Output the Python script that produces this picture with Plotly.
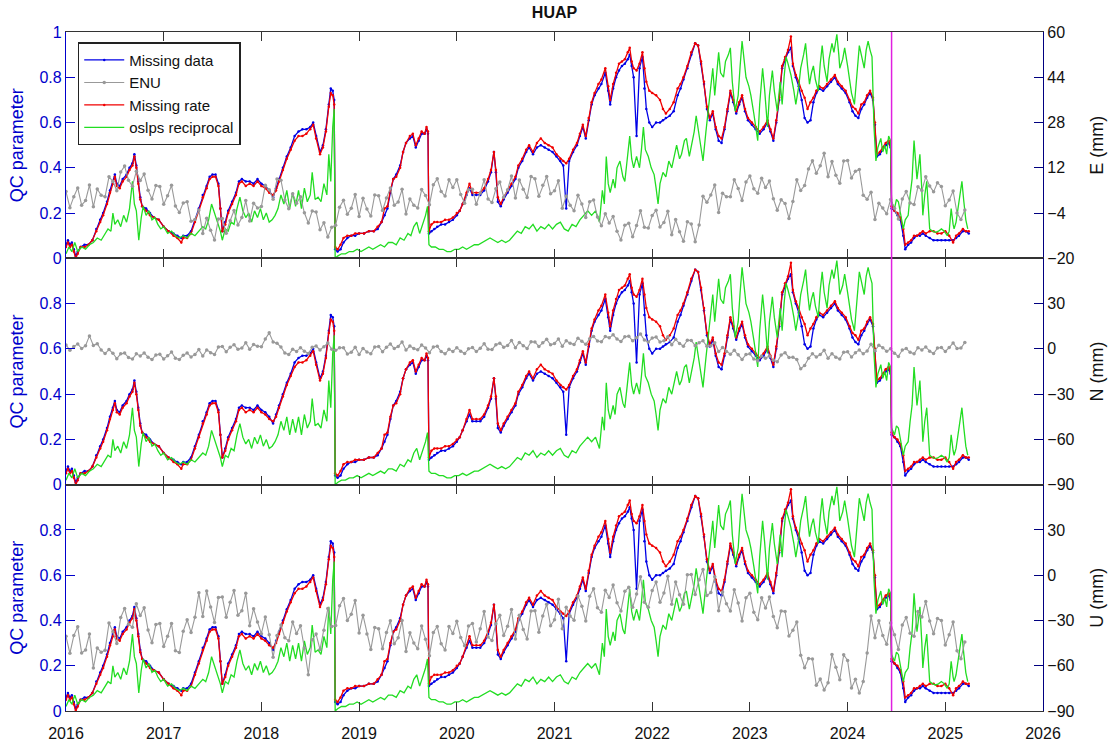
import plotly.graph_objects as go
from plotly.subplots import make_subplots

# ---------------- QC parameter series (decimal years) ----------------
t_qc = [2016.00, 2016.02, 2016.04, 2016.06, 2016.08, 2016.10, 2016.12, 2016.15, 2016.19, 2016.23,
        2016.27, 2016.31, 2016.35, 2016.38, 2016.42, 2016.45, 2016.48, 2016.50, 2016.52, 2016.55,
        2016.58, 2016.62, 2016.65, 2016.68, 2016.70, 2016.72, 2016.74, 2016.76, 2016.78, 2016.82,
        2016.86, 2016.90, 2016.95, 2017.00, 2017.05, 2017.10, 2017.14, 2017.18, 2017.20, 2017.24,
        2017.28, 2017.32, 2017.36, 2017.40, 2017.44, 2017.47, 2017.50, 2017.53, 2017.56, 2017.58,
        2017.60, 2017.63, 2017.66, 2017.70, 2017.74, 2017.77, 2017.80, 2017.84, 2017.88, 2017.92,
        2017.96, 2018.00, 2018.04, 2018.08, 2018.12, 2018.15, 2018.18, 2018.22, 2018.26, 2018.30,
        2018.34, 2018.38, 2018.42, 2018.46, 2018.50, 2018.53, 2018.56, 2018.60, 2018.63, 2018.66,
        2018.69, 2018.71, 2018.73, 2018.745, 2018.755, 2018.78, 2018.81, 2018.84, 2018.88, 2018.92,
        2018.96, 2019.00, 2019.05, 2019.10, 2019.15, 2019.19, 2019.23, 2019.26, 2019.29, 2019.32,
        2019.35, 2019.38, 2019.42, 2019.45, 2019.48, 2019.52, 2019.55, 2019.58, 2019.61, 2019.64,
        2019.67, 2019.69, 2019.705, 2019.715, 2019.74, 2019.77, 2019.80, 2019.84, 2019.88, 2019.92,
        2019.96, 2020.00, 2020.03, 2020.06, 2020.10, 2020.13, 2020.16, 2020.20, 2020.24, 2020.28,
        2020.32, 2020.35, 2020.38, 2020.40, 2020.42, 2020.45, 2020.48, 2020.52, 2020.56, 2020.60,
        2020.63, 2020.67, 2020.71, 2020.74, 2020.78, 2020.82, 2020.86, 2020.90, 2020.94, 2020.98,
        2021.02, 2021.06, 2021.09, 2021.12, 2021.15, 2021.19, 2021.23, 2021.26, 2021.29, 2021.32,
        2021.35, 2021.38, 2021.41, 2021.45, 2021.48, 2021.52, 2021.55, 2021.57, 2021.60, 2021.63,
        2021.66, 2021.69, 2021.72, 2021.75, 2021.77, 2021.79, 2021.81, 2021.84, 2021.87, 2021.90,
        2021.92, 2021.94, 2021.97, 2022.00, 2022.04, 2022.08, 2022.11, 2022.14, 2022.18, 2022.22,
        2022.26, 2022.29, 2022.32, 2022.36, 2022.40, 2022.44, 2022.47, 2022.50, 2022.53, 2022.56,
        2022.59, 2022.62, 2022.65, 2022.68, 2022.71, 2022.74, 2022.77, 2022.80, 2022.83, 2022.86,
        2022.89, 2022.92, 2022.95, 2022.98, 2023.02, 2023.06, 2023.10, 2023.14, 2023.18, 2023.21,
        2023.24, 2023.27, 2023.30, 2023.33, 2023.36, 2023.39, 2023.42, 2023.44, 2023.47, 2023.50,
        2023.53, 2023.56, 2023.59, 2023.62, 2023.65, 2023.68, 2023.71, 2023.75, 2023.79, 2023.83,
        2023.87, 2023.90, 2023.94, 2023.98, 2024.02, 2024.05, 2024.08, 2024.11, 2024.14, 2024.17,
        2024.20, 2024.23, 2024.26, 2024.28, 2024.30, 2024.33, 2024.36, 2024.39, 2024.42, 2024.44,
        2024.45, 2024.48, 2024.51, 2024.54, 2024.57, 2024.59, 2024.62, 2024.65, 2024.68, 2024.71,
        2024.74, 2024.77, 2024.80, 2024.84, 2024.88, 2024.92, 2024.96, 2025.00, 2025.04, 2025.08,
        2025.11, 2025.14, 2025.18, 2025.21, 2025.24]

missing_rate = [0.05, 0.07, 0.05, 0.06, 0.03, 0.00, 0.02, 0.05, 0.05, 0.06,
                0.08, 0.12, 0.16, 0.19, 0.24, 0.29, 0.33, 0.36, 0.32, 0.31,
                0.34, 0.36, 0.39, 0.41, 0.45, 0.40, 0.33, 0.26, 0.23, 0.21,
                0.19, 0.18, 0.17, 0.14, 0.12, 0.10, 0.09, 0.07, 0.09, 0.09,
                0.11, 0.16, 0.21, 0.27, 0.31, 0.35, 0.36, 0.36, 0.32, 0.22,
                0.12, 0.15, 0.20, 0.24, 0.28, 0.33, 0.34, 0.32, 0.33, 0.32,
                0.34, 0.32, 0.31, 0.29, 0.28, 0.30, 0.34, 0.39, 0.44, 0.48,
                0.52, 0.54, 0.54, 0.55, 0.57, 0.59, 0.53, 0.46, 0.49, 0.56,
                0.67, 0.73, 0.72, 0.68, 0.05, 0.04, 0.06, 0.09, 0.10, 0.10,
                0.11, 0.11, 0.11, 0.12, 0.12, 0.14, 0.16, 0.22, 0.23, 0.30,
                0.35, 0.36, 0.40, 0.47, 0.51, 0.54, 0.55, 0.50, 0.53, 0.56,
                0.55, 0.58, 0.56, 0.12, 0.15, 0.16, 0.16, 0.16, 0.17, 0.17,
                0.18, 0.20, 0.21, 0.24, 0.29, 0.33, 0.29, 0.29, 0.29, 0.31,
                0.35, 0.39, 0.47, 0.39, 0.27, 0.24, 0.27, 0.30, 0.33, 0.36,
                0.41, 0.44, 0.48, 0.50, 0.47, 0.51, 0.53, 0.51, 0.50, 0.49,
                0.46, 0.44, 0.43, 0.42, 0.44, 0.48, 0.51, 0.55, 0.59, 0.54,
                0.62, 0.69, 0.73, 0.77, 0.79, 0.84, 0.76, 0.70, 0.77, 0.82,
                0.86, 0.87, 0.88, 0.91, 0.93, 0.87, 0.84, 0.83, 0.86, 0.91,
                0.84, 0.78, 0.74, 0.73, 0.72, 0.70, 0.66, 0.64, 0.66, 0.69,
                0.75, 0.77, 0.80, 0.85, 0.91, 0.95, 0.94, 0.87, 0.78, 0.67,
                0.62, 0.65, 0.58, 0.54, 0.53, 0.58, 0.66, 0.74, 0.70, 0.65,
                0.69, 0.72, 0.66, 0.62, 0.60, 0.58, 0.56, 0.58, 0.61, 0.57,
                0.53, 0.61, 0.71, 0.85, 0.89, 0.92, 0.98, 0.86, 0.81, 0.78,
                0.74, 0.71, 0.66, 0.69, 0.71, 0.74, 0.76, 0.75, 0.77, 0.79,
                0.81, 0.78, 0.76, 0.74, 0.70, 0.67, 0.66, 0.64, 0.68, 0.69,
                0.72, 0.74, 0.71, 0.60, 0.46, 0.47, 0.49, 0.51, 0.52, 0.50,
                0.23, 0.21, 0.20, 0.18, 0.13, 0.06, 0.07, 0.08, 0.10, 0.10,
                0.11, 0.12, 0.11, 0.12, 0.12, 0.11, 0.11, 0.12, 0.10, 0.07,
                0.10, 0.11, 0.13, 0.12, 0.12]

missing_data = [0.06, 0.08, 0.06, 0.07, 0.04, 0.01, 0.03, 0.05, 0.06, 0.06,
                0.08, 0.13, 0.17, 0.20, 0.25, 0.30, 0.34, 0.37, 0.33, 0.32,
                0.35, 0.37, 0.40, 0.42, 0.46, 0.41, 0.34, 0.27, 0.23, 0.22,
                0.20, 0.18, 0.17, 0.14, 0.12, 0.11, 0.10, 0.09, 0.10, 0.10,
                0.12, 0.17, 0.22, 0.28, 0.32, 0.36, 0.37, 0.37, 0.33, 0.22,
                0.12, 0.16, 0.21, 0.25, 0.29, 0.34, 0.35, 0.34, 0.34, 0.33,
                0.35, 0.33, 0.32, 0.30, 0.27, 0.31, 0.35, 0.40, 0.45, 0.49,
                0.54, 0.56, 0.57, 0.57, 0.58, 0.60, 0.54, 0.47, 0.50, 0.57,
                0.68, 0.75, 0.74, 0.70, 0.04, 0.03, 0.04, 0.07, 0.09, 0.10,
                0.10, 0.11, 0.11, 0.12, 0.12, 0.13, 0.16, 0.19, 0.22, 0.29,
                0.35, 0.37, 0.41, 0.47, 0.51, 0.53, 0.54, 0.49, 0.52, 0.55,
                0.55, 0.57, 0.55, 0.11, 0.12, 0.13, 0.14, 0.15, 0.15, 0.16,
                0.17, 0.19, 0.21, 0.24, 0.28, 0.31, 0.28, 0.28, 0.28, 0.30,
                0.34, 0.38, 0.47, 0.38, 0.25, 0.23, 0.26, 0.29, 0.32, 0.35,
                0.40, 0.43, 0.47, 0.49, 0.46, 0.49, 0.50, 0.49, 0.48, 0.47,
                0.45, 0.43, 0.41, 0.22, 0.43, 0.47, 0.50, 0.54, 0.58, 0.53,
                0.61, 0.68, 0.72, 0.75, 0.77, 0.82, 0.74, 0.68, 0.75, 0.80,
                0.83, 0.85, 0.86, 0.88, 0.90, 0.85, 0.80, 0.54, 0.84, 0.89,
                0.75, 0.66, 0.60, 0.58, 0.60, 0.60, 0.61, 0.62, 0.63, 0.65,
                0.72, 0.75, 0.79, 0.84, 0.90, 0.95, 0.94, 0.86, 0.77, 0.66,
                0.61, 0.64, 0.57, 0.52, 0.51, 0.57, 0.65, 0.73, 0.69, 0.64,
                0.68, 0.71, 0.65, 0.61, 0.59, 0.57, 0.55, 0.57, 0.60, 0.56,
                0.52, 0.60, 0.70, 0.84, 0.88, 0.91, 0.93, 0.85, 0.80, 0.76,
                0.70, 0.62, 0.60, 0.61, 0.69, 0.73, 0.75, 0.74, 0.76, 0.78,
                0.80, 0.77, 0.75, 0.73, 0.69, 0.65, 0.63, 0.62, 0.66, 0.68,
                0.71, 0.73, 0.70, 0.59, 0.45, 0.46, 0.48, 0.50, 0.51, 0.49,
                0.22, 0.21, 0.19, 0.17, 0.10, 0.04, 0.06, 0.07, 0.09, 0.10,
                0.10, 0.11, 0.10, 0.09, 0.08, 0.08, 0.08, 0.08, 0.08, 0.08,
                0.09, 0.10, 0.12, 0.12, 0.11]

t_oslps = [2016.00, 2016.03, 2016.06, 2016.09, 2016.12, 2016.16, 2016.20, 2016.24, 2016.28, 2016.32,
           2016.36, 2016.40, 2016.43, 2016.46, 2016.48, 2016.50, 2016.53, 2016.56, 2016.59, 2016.62,
           2016.65, 2016.68, 2016.70, 2016.72, 2016.745, 2016.77, 2016.79, 2016.82, 2016.85, 2016.88,
           2016.91, 2016.94, 2016.97, 2017.00, 2017.04, 2017.08, 2017.12, 2017.16, 2017.20, 2017.24,
           2017.28, 2017.32, 2017.36, 2017.40, 2017.43, 2017.46, 2017.49, 2017.52, 2017.55, 2017.58,
           2017.60, 2017.63, 2017.66, 2017.69, 2017.72, 2017.75, 2017.78, 2017.81, 2017.84, 2017.87,
           2017.90, 2017.93, 2017.96, 2017.99, 2018.02, 2018.05, 2018.08, 2018.11, 2018.14, 2018.17,
           2018.20, 2018.23, 2018.26, 2018.29, 2018.32, 2018.35, 2018.38, 2018.41, 2018.44, 2018.47,
           2018.50, 2018.52, 2018.55, 2018.58, 2018.61, 2018.64, 2018.67, 2018.69, 2018.71, 2018.73,
           2018.745, 2018.755, 2018.78, 2018.82, 2018.86, 2018.90, 2018.94, 2018.98, 2019.02, 2019.06,
           2019.10, 2019.14, 2019.18, 2019.22, 2019.26, 2019.30, 2019.34, 2019.38, 2019.42, 2019.46,
           2019.50, 2019.53, 2019.56, 2019.59, 2019.62, 2019.65, 2019.68, 2019.70, 2019.715, 2019.74,
           2019.78, 2019.82, 2019.86, 2019.90, 2019.94, 2019.98, 2020.02, 2020.06, 2020.10, 2020.14,
           2020.18, 2020.22, 2020.26, 2020.30, 2020.34, 2020.38, 2020.42, 2020.46, 2020.50, 2020.54,
           2020.58, 2020.62, 2020.66, 2020.70, 2020.74, 2020.78, 2020.82, 2020.86, 2020.90, 2020.94,
           2020.98, 2021.02, 2021.06, 2021.10, 2021.14, 2021.18, 2021.22, 2021.26, 2021.30, 2021.34,
           2021.38, 2021.42, 2021.46, 2021.49, 2021.51, 2021.53, 2021.55, 2021.57, 2021.60, 2021.62,
           2021.64, 2021.67, 2021.70, 2021.72, 2021.74, 2021.77, 2021.79, 2021.81, 2021.84, 2021.87,
           2021.89, 2021.91, 2021.93, 2021.96, 2021.99, 2022.02, 2022.04, 2022.06, 2022.08, 2022.11,
           2022.14, 2022.17, 2022.20, 2022.23, 2022.25, 2022.28, 2022.30, 2022.33, 2022.35, 2022.38,
           2022.40, 2022.43, 2022.45, 2022.48, 2022.50, 2022.52, 2022.55, 2022.57, 2022.60, 2022.62,
           2022.64, 2022.66, 2022.68, 2022.70, 2022.73, 2022.75, 2022.78, 2022.80, 2022.82, 2022.85,
           2022.88, 2022.90, 2022.92, 2022.94, 2022.96, 2022.99, 2023.01, 2023.04, 2023.06, 2023.08,
           2023.10, 2023.13, 2023.15, 2023.18, 2023.20, 2023.23, 2023.25, 2023.28, 2023.31, 2023.33,
           2023.35, 2023.37, 2023.39, 2023.42, 2023.45, 2023.47, 2023.50, 2023.52, 2023.55, 2023.57,
           2023.59, 2023.61, 2023.63, 2023.65, 2023.67, 2023.70, 2023.72, 2023.74, 2023.76, 2023.79,
           2023.81, 2023.84, 2023.86, 2023.89, 2023.91, 2023.92, 2023.95, 2023.97, 2024.00, 2024.02,
           2024.04, 2024.07, 2024.09, 2024.12, 2024.14, 2024.17, 2024.19, 2024.21, 2024.23, 2024.25,
           2024.27, 2024.29, 2024.31, 2024.34, 2024.36, 2024.38, 2024.40, 2024.42, 2024.44, 2024.45,
           2024.48, 2024.50, 2024.52, 2024.54, 2024.57, 2024.59, 2024.62, 2024.64, 2024.66, 2024.68,
           2024.70, 2024.71, 2024.73, 2024.74, 2024.76, 2024.77, 2024.79, 2024.81, 2024.83, 2024.84,
           2024.87, 2024.90, 2024.93, 2024.96, 2024.99, 2025.02, 2025.04, 2025.06, 2025.08, 2025.09,
           2025.11, 2025.14, 2025.16, 2025.17, 2025.19, 2025.21, 2025.23]

oslps_reciprocal = [0.02, 0.05, 0.03, 0.07, 0.03, 0.05, 0.04, 0.06, 0.07, 0.09,
                    0.08, 0.11, 0.13, 0.12, 0.20, 0.15, 0.17, 0.14, 0.19, 0.16,
                    0.22, 0.34, 0.24, 0.21, 0.08, 0.18, 0.23, 0.19, 0.21, 0.17,
                    0.18, 0.15, 0.13, 0.14, 0.11, 0.12, 0.10, 0.09, 0.10, 0.09,
                    0.11, 0.10, 0.12, 0.14, 0.13, 0.17, 0.24, 0.20, 0.17, 0.12,
                    0.08, 0.13, 0.12, 0.16, 0.15, 0.22, 0.27, 0.21, 0.18, 0.20,
                    0.16, 0.21, 0.18, 0.22, 0.17, 0.20, 0.16, 0.17, 0.19, 0.22,
                    0.28, 0.24, 0.30, 0.22, 0.29, 0.23, 0.30, 0.22, 0.31, 0.25,
                    0.28, 0.38, 0.26, 0.27, 0.25, 0.33, 0.28, 0.46, 0.34, 0.58,
                    0.66, 0.00, 0.01, 0.02, 0.02, 0.03, 0.03, 0.04, 0.03, 0.04,
                    0.05, 0.04, 0.05, 0.06, 0.05, 0.07, 0.07, 0.06, 0.09, 0.08,
                    0.11, 0.10, 0.14, 0.16, 0.11, 0.15, 0.19, 0.23, 0.06, 0.05,
                    0.05, 0.04, 0.04, 0.03, 0.03, 0.04, 0.04, 0.05, 0.04, 0.05,
                    0.06, 0.06, 0.07, 0.08, 0.09, 0.08, 0.07, 0.08, 0.07, 0.08,
                    0.10, 0.12, 0.11, 0.14, 0.13, 0.15, 0.12, 0.14, 0.13, 0.15,
                    0.13, 0.15, 0.16, 0.13, 0.12, 0.15, 0.14, 0.17, 0.19, 0.21,
                    0.19, 0.21, 0.16, 0.30, 0.24, 0.45, 0.33, 0.29, 0.35, 0.31,
                    0.40, 0.43, 0.36, 0.34, 0.42, 0.54, 0.44, 0.40, 0.45, 0.40,
                    0.48, 0.58, 0.48, 0.45, 0.40, 0.37, 0.31, 0.24, 0.33, 0.38,
                    0.36, 0.43, 0.40, 0.47, 0.50, 0.44, 0.46, 0.52, 0.53, 0.45,
                    0.50, 0.56, 0.63, 0.54, 0.48, 0.43, 0.56, 0.65, 0.75, 0.84,
                    0.72, 0.80, 0.91, 0.82, 0.80, 0.87, 0.90, 0.93, 0.78, 0.65,
                    0.72, 0.85, 0.96, 0.88, 0.80, 0.76, 0.72, 0.64, 0.57, 0.52,
                    0.68, 0.84, 0.75, 0.58, 0.72, 0.83, 0.74, 0.65, 0.78, 0.68,
                    0.80, 0.89, 0.86, 0.81, 0.74, 0.68, 0.76, 0.84, 0.90, 0.95,
                    0.85, 0.77, 0.82, 0.85, 0.79, 0.74, 0.86, 0.94, 0.85, 0.78,
                    0.88, 0.95, 0.91, 0.99, 0.90, 0.84, 0.88, 0.93, 0.85, 0.78,
                    0.73, 0.68, 0.80, 0.94, 0.90, 0.84, 0.92, 0.96, 0.92, 0.89,
                    0.58, 0.43, 0.49, 0.53, 0.47, 0.50, 0.46, 0.54, 0.52, 0.25,
                    0.22, 0.26, 0.25, 0.20, 0.13, 0.17, 0.19, 0.28, 0.35, 0.52,
                    0.40, 0.35, 0.42, 0.46, 0.30, 0.19, 0.28, 0.34, 0.20, 0.13,
                    0.12, 0.115, 0.12, 0.13, 0.12, 0.10, 0.12, 0.22, 0.15, 0.13,
                    0.16, 0.25, 0.30, 0.34, 0.25, 0.17, 0.13]

# ---------------- ENU series (mm), sampled every 0.04 yr from 2016.00 ----------------
enu_start, enu_step = 2016.00, 0.04

E_mm = [3.6, -2.1, 1.8, 4.9, -1.2, 0.4, 5.9, -1.8, 4.5, 2.3,
        1.8, 8.8, 7.2, 3.9, 10.5, 12.6, 7.6, 5.5, 10.8, 7.5,
        9.8, 4.1, 1.0, 5.7, 5.4, -0.9, 2.1, 5.8, -1.5, -3.8,
        -0.4, 0.0, -6.9, -6.3, -2.9, -11.2, -5.8, -10.1, -13.5, -6.1,
        -5.9, -11.1, -6.7, -3.1, -8.2, -5.6, 0.4, -6.8, -0.5, -2.2,
        -1.7, 5.8, 4.2, 0.9, 8.0, 7.6, 0.6, -2.5, 2.8, -0.5,
        1.8, -3.9, -7.5, -3.3, -3.6, -9.9, -7.4, -12.5, -9.0, -8.3,
        -1.9, 0.5, -4.4, -2.3, 2.6, -5.2, 1.2, -2.6, -5.0, 2.4,
        2.1, -3.1, 1.3, 4.9, -1.2, -0.1, 4.4, -4.3, 1.0, -1.2,
        -2.2, 4.3, 2.2, -1.1, 6.0, 8.1, 3.6, 2.0, 7.8, 5.0,
        7.8, 2.6, -0.5, 4.2, 4.4, -0.9, 3.1, 7.8, 1.0, -0.3,
        4.6, 7.0, 1.6, 4.2, 9.1, 1.3, 7.7, 4.4, 1.5, 8.9,
        8.1, 1.9, 5.8, 8.9, 2.8, 3.9, 7.4, -2.3, 2.0, -1.2,
        -3.2, 2.3, -0.8, -5.6, 0.0, 0.6, -5.4, -8.5, -4.2, -7.5,
        -5.2, -10.4, -13.5, -8.3, -7.6, -12.4, -8.4, -3.2, -9.0, -9.3,
        -4.9, -3.0, -8.9, -7.3, -3.4, -11.7, -6.3, -10.6, -14.0, -7.1,
        -7.9, -14.1, -8.2, 1.9, -0.2, 2.4, 5.9, -3.8, 3.0, 1.8,
        1.8, 7.8, 4.7, 0.4, 7.0, 9.1, 4.6, 3.0, 8.3, 5.0,
        7.3, 1.1, -3.0, 0.7, -0.6, -5.9, 0.1, 7.8, 4.0, 5.7,
        11.6, 14.5, 10.1, 12.7, 17.1, 8.8, 14.2, 9.4, 6.5, 14.4,
        14.6, 8.4, 10.8, 11.4, 2.3, 0.9, 3.4, -6.3, -0.5, -2.2,
        -4.2, 0.8, -2.3, -6.1, 1.0, 3.6, -0.4, -1.0, 5.3, 4.0,
        8.8, 5.6, 3.5, 6.7, 5.4, -1.4, 0.6, 3.8, -4.0, -6.3,
        -2.9]

N_mm = [2.6, -0.9, 1.5, 3.3, 0.2, 2.1, 8.6, 2.2, 3.4, -0.7,
        -3.1, -0.5, -2.9, -6.5, -3.3, -2.8, -5.8, -6.8, -3.3, -4.7,
        -2.7, -5.5, -7.1, -4.0, -3.6, -6.7, -4.6, -2.1, -6.2, -7.0,
        -4.3, -2.7, -5.4, -3.7, -0.5, -4.7, -0.7, -2.5, -3.7, 1.2,
        1.6, -1.9, 1.0, 2.8, -0.3, 0.6, 4.1, -0.3, 2.9, 1.8,
        1.4, 6.5, 10.6, 4.5, 3.7, 1.2, -2.8, -3.8, -0.3, -1.7,
        0.8, -1.5, -3.1, 1.0, 1.9, -0.7, 1.4, 3.9, -0.2, -1.0,
        0.7, 0.8, -3.4, -2.2, 1.0, -3.7, 0.3, -2.0, -3.2, 1.2,
        1.6, -1.9, 1.0, 3.3, 0.2, 1.6, 4.6, -0.8, 1.9, 0.3,
        -0.6, 2.5, 0.6, -2.5, 1.2, 1.7, -1.8, -3.3, -0.3, -1.7,
        0.8, -1.5, -3.1, 0.0, 0.9, -1.7, 0.4, 3.4, -0.2, -0.5,
        2.7, 3.8, 1.1, 2.3, 5.5, 0.8, 4.3, 2.0, 0.3, 4.7,
        4.6, 1.6, 4.0, 6.3, 2.7, 3.6, 6.6, 1.7, 5.4, 3.8,
        2.9, 7.0, 5.1, 3.0, 6.7, 8.2, 5.2, 4.7, 8.2, 7.3,
        9.3, 6.5, 4.9, 8.0, 8.4, 5.3, 7.4, 9.9, 5.8, 4.5,
        7.2, 7.8, 4.6, 5.3, 8.0, 2.8, 6.3, 3.5, 1.8, 5.7,
        5.6, 2.1, 4.0, 5.3, 1.7, 2.1, 4.1, -1.8, 0.9, -1.7,
        -3.6, -1.0, -3.9, -7.0, -3.8, -3.3, -6.8, -7.8, -4.8, -6.2,
        -4.7, -7.5, -8.6, -4.0, -2.6, -5.7, -5.6, -7.1, -13.2, -11.0,
        -6.3, -3.2, -5.4, -3.7, -1.0, -6.2, -3.2, -5.5, -6.7, -2.3,
        -1.9, -5.4, -2.5, -0.7, -3.3, -1.4, 3.1, -1.3, 2.4, 0.8,
        -1.6, 0.0, -2.9, -5.0, -0.8, 0.2, -2.3, -3.3, 0.7, -0.7,
        1.3, -1.5, -3.1, 0.5, 0.9, -1.7, 0.9, 3.9, 0.3, 0.5,
        4.2]

U_mm = [-40.5, -51.8, -40.0, -34.2, -51.5, -49.5, -39.0, -61.5, -48.2, -51.0,
        -49.8, -31.7, -37.5, -45.3, -28.0, -22.0, -32.5, -34.5, -19.0, -26.7,
        -21.5, -36.3, -44.8, -32.7, -32.0, -47.3, -40.5, -32.0, -50.0, -51.3,
        -37.2, -29.5, -38.0, -27.8, -11.7, -27.3, -10.5, -21.0, -31.3, -14.7,
        -14.5, -27.8, -18.0, -10.2, -26.5, -23.5, -12.0, -33.5, -22.2, -31.0,
        -38.8, -27.7, -39.5, -54.3, -40.0, -33.0, -41.5, -43.5, -31.0, -38.7,
        -33.5, -48.3, -66.0, -42.7, -39.0, -49.3, -36.5, -22.0, -34.0, -33.3,
        -20.2, -15.5, -30.0, -25.8, -16.7, -38.3, -26.5, -39.0, -49.3, -34.7,
        -35.5, -48.8, -38.0, -30.2, -45.5, -41.5, -30.0, -50.5, -38.2, -45.0,
        -48.8, -33.7, -42.5, -53.3, -38.0, -34.0, -45.5, -49.5, -34.0, -38.7,
        -30.5, -41.3, -46.8, -33.7, -32.0, -44.3, -35.5, -24.0, -41.0, -43.3,
        -32.2, -26.5, -40.0, -33.8, -22.7, -42.3, -26.5, -36.0, -42.3, -23.7,
        -23.5, -37.8, -27.0, -19.2, -33.5, -29.5, -16.0, -35.5, -21.2, -27.0,
        -29.8, -13.7, -20.5, -30.3, -14.0, -9.0, -21.5, -24.5, -10.0, -14.7,
        -6.5, -18.3, -23.8, -10.7, -8.0, -21.3, -12.5, -1.0, -18.0, -21.3,
        -10.2, -4.5, -18.0, -11.8, -0.7, -19.3, -4.5, -13.0, -19.3, 0.3,
        0.5, -12.8, -3.0, 3.8, -13.5, -11.5, -1.0, -23.5, -11.2, -19.0,
        -23.8, -9.7, -18.5, -30.3, -15.0, -12.0, -24.5, -29.5, -15.0, -21.7,
        -14.5, -27.3, -34.8, -23.7, -24.0, -40.3, -36.5, -31.0, -53.0, -61.3,
        -55.2, -55.5, -73.0, -68.8, -76.0, -71.3, -52.5, -61.0, -69.3, -52.7,
        -56.5, -74.8, -69.0, -78.0, -70.5, -51.5, -27.0, -41.5, -30.2, -40.0,
        -45.8, -31.7, -39.5, -49.3, -33.0, -28.0, -38.5, -40.5, -24.0, -27.7,
        -17.5, -30.3, -38.8, -28.7, -30.0, -46.3, -39.5, -31.0, -50.0, -55.3,
        -44.2]

event_date = 2024.45           # magenta vertical marker
x_ticks = list(range(2016, 2027))
qc_ticks_top = [0, 0.2, 0.4, 0.6, 0.8, 1]
qc_ticks = [0, 0.2, 0.4, 0.6, 0.8]
e_ticks = [-20, -4, 12, 28, 44, 60]
nu_ticks = [-90, -60, -30, 0, 30]
panels = [("E (mm)", E_mm, [-20, 60], e_ticks, qc_ticks_top),
          ("N (mm)", N_mm, [-90, 60], nu_ticks, qc_ticks),
          ("U (mm)", U_mm, [-90, 60], nu_ticks, qc_ticks)]

t_enu = [round(enu_start + enu_step * i, 2) for i in range(len(E_mm))]

BLUE = "#0000e6"
RED = "#f00000"
GREEN = "#22dd22"
GRAY = "#999999"
FONT = "Liberation Sans, Arial, Helvetica, sans-serif"

fig = make_subplots(rows=3, cols=1, shared_xaxes=True, vertical_spacing=0.0,
                    specs=[[{"secondary_y": True}]] * 3)

for r, (ylab, enu, rng, rticks, lticks) in enumerate(panels, start=1):
    show = (r == 1)
    fig.add_trace(go.Scatter(x=t_qc, y=missing_data, name="Missing data", mode="lines+markers",
                             line=dict(color=BLUE, width=1.3), marker=dict(size=2.5, color=BLUE),
                             showlegend=show, legendrank=1), row=r, col=1, secondary_y=False)
    fig.add_trace(go.Scatter(x=t_qc, y=missing_rate, name="Missing rate", mode="lines+markers",
                             line=dict(color=RED, width=1.3), marker=dict(size=2.5, color=RED),
                             showlegend=show, legendrank=3), row=r, col=1, secondary_y=False)
    fig.add_trace(go.Scatter(x=t_oslps, y=oslps_reciprocal, name="oslps reciprocal", mode="lines",
                             line=dict(color=GREEN, width=1.3),
                             showlegend=show, legendrank=4), row=r, col=1, secondary_y=False)
    fig.add_trace(go.Scatter(x=t_enu, y=enu, name="ENU", mode="lines+markers",
                             line=dict(color=GRAY, width=1.1), marker=dict(size=3.5, color=GRAY),
                             showlegend=show, legendrank=2), row=r, col=1, secondary_y=True)

    fig.update_yaxes(row=r, col=1, secondary_y=False, range=[0, 1], tickvals=lticks,
                     ticktext=[("%g" % v) for v in lticks], automargin=False,
                     ticks="inside", ticklen=9, tickcolor="#0000cc", showline=True,
                     linecolor="#0000cc", linewidth=1.2, showgrid=False, zeroline=False,
                     tickfont=dict(color="#0000cc", size=16, family=FONT),
                     title=dict(text="QC parameter", font=dict(color="#0000cc", size=18, family=FONT),
                                standoff=11))
    fig.update_yaxes(row=r, col=1, secondary_y=True, range=rng, tickvals=rticks,
                     automargin=False,
                     ticks="inside", ticklen=9, tickcolor="#000080", showline=True,
                     linecolor="#000080", linewidth=1.2, showgrid=False, zeroline=False,
                     tickfont=dict(color="#111111", size=16, family=FONT),
                     title=dict(text=ylab, font=dict(color="#111111", size=18, family=FONT),
                                standoff=16))
    fig.update_xaxes(row=r, col=1, domain=[0, 1], range=[2016, 2026], tickvals=x_ticks,
                     automargin=False,
                     ticktext=[str(v) for v in x_ticks], showticklabels=(r == 3),
                     ticks="inside", ticklen=9, tickcolor="#333333", showline=True,
                     linecolor="#333333", linewidth=1.2, mirror="ticks", showgrid=False,
                     zeroline=False, ticklabelstandoff=8,
                     tickfont=dict(color="#111111", size=16, family=FONT))

fig.add_shape(type="line", xref="x", yref="paper", x0=event_date, x1=event_date, y0=0, y1=1,
              line=dict(color="#e020e0", width=1.5), layer="above")

fig.update_layout(
    width=1111, height=743,
    margin=dict(l=66, r=68, t=32, b=32),
    paper_bgcolor="white", plot_bgcolor="white",
    font=dict(family=FONT, color="#111111"),
    title=dict(text="<b>HUAP</b>", x=0.5, xref="paper", y=1 - 12 / 743, yanchor="middle",
               font=dict(size=16, family=FONT, color="#111111")),
    legend=dict(x=0.012, y=0.985, xanchor="left", yanchor="top", bgcolor="white",
                bordercolor="#222222", borderwidth=1.5, font=dict(size=15, family=FONT),
                tracegroupgap=0, itemwidth=40),
)

fig.write_html("out.html")
